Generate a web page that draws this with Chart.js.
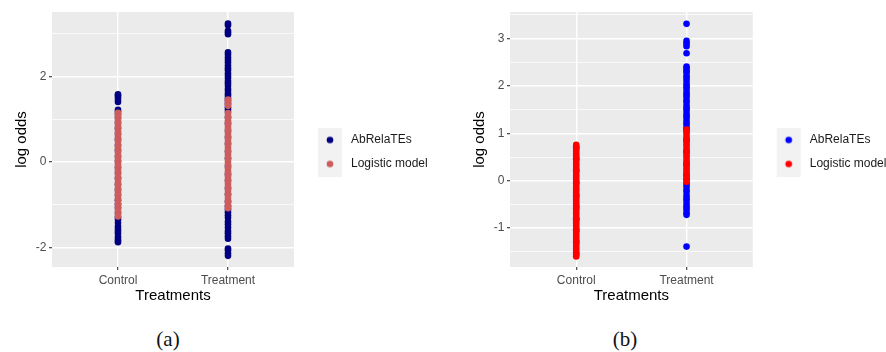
<!DOCTYPE html>
<html><head><meta charset="utf-8">
<script src="https://cdn.jsdelivr.net/npm/chart.js@4"></script>
<style>
html,body{margin:0;padding:0;background:#fff;width:886px;height:352px;overflow:hidden;}
canvas{position:absolute;top:0;}
.cap{position:absolute;top:327px;height:24px;line-height:24px;font-family:'Liberation Serif','DejaVu Serif',serif;font-size:21px;color:#111;width:60px;text-align:center;}
</style></head><body>
<canvas id="ca" width="443" height="305" style="left:0px"></canvas>
<canvas id="cb" width="428" height="305" style="left:458px"></canvas>
<div class="cap" id="capA" style="left:138px"></div>
<div class="cap" id="capB" style="left:595px"></div>
<script>
const categories = ['Control', 'Treatment'];
const seriesNames = ['AbRelaTEs', 'Logistic model'];
const panelCaptions = ['(a)', '(b)'];
const xTitle = 'Treatments';
const yTitle = 'log odds';

// panel (a)
const aAbControl = [1.58, 1.55, 1.51, 1.45, 1.40, 1.22, 1.18, 1.12, 1.03, 0.91, 0.79, 0.66, 0.53, 0.39, 0.27, 0.12, 0.01, -0.13, -0.25, -0.38, -0.52, -0.64, -0.77, -0.89, -0.99, -1.07, -1.19, -1.29, -1.34, -1.42, -1.50, -1.56, -1.61, -1.66, -1.74, -1.79, -1.83, -1.87];
const aAbTreatment = [3.23, 3.19, 3.06, 3.02, 2.98, 2.56, 2.51, 2.44, 2.38, 2.32, 2.25, 2.19, 2.14, 2.07, 2.01, 1.96, 1.89, 1.84, 1.78, 1.71, 1.66, 1.60, 1.55, 1.49, 1.43, 1.36, 1.28, 1.23, 1.17, 1.04, 0.90, 0.73, 0.57, 0.42, 0.24, 0.08, -0.11, -0.29, -0.44, -0.62, -0.76, -0.92, -1.03, -1.11, -1.17, -1.24, -1.30, -1.39, -1.45, -1.53, -1.61, -1.66, -1.73, -1.79, -2.02, -2.06, -2.13, -2.19];
const aLogControl = [1.15, 1.11, 1.07, 1.01, 0.96, 0.92, 0.85, 0.81, 0.74, 0.70, 0.63, 0.58, 0.51, 0.47, 0.40, 0.34, 0.30, 0.23, 0.17, 0.13, 0.06, 0.02, -0.05, -0.10, -0.17, -0.21, -0.28, -0.34, -0.38, -0.45, -0.51, -0.55, -0.62, -0.68, -0.72, -0.79, -0.85, -0.89, -0.96, -1.01, -1.06, -1.12, -1.16, -1.23, -1.27];
const aLogTreatment = [1.46, 1.43, 1.38, 1.35, 1.31, 1.14, 1.08, 1.04, 0.97, 0.93, 0.86, 0.80, 0.76, 0.69, 0.63, 0.59, 0.52, 0.46, 0.42, 0.35, 0.29, 0.25, 0.18, 0.12, 0.08, 0.01, -0.05, -0.09, -0.16, -0.22, -0.26, -0.33, -0.39, -0.43, -0.50, -0.56, -0.60, -0.67, -0.73, -0.77, -0.84, -0.90, -0.94, -1.00, -1.05, -1.08];
const aYMajor = [-2, 0, 2];
const aYMinor = [-1, 1, 3];

// panel (b)
const bAbControl = [0.70, 0.46, 0.21, -0.04, -0.31, -0.55, -0.81, -1.04, -1.29, -1.54];
const bAbTreatment = [3.31, 2.95, 2.90, 2.84, 2.69, 2.41, 2.37, 2.32, 2.28, 2.21, 2.17, 2.11, 2.04, 1.99, 1.94, 1.87, 1.82, 1.77, 1.70, 1.65, 1.58, 1.53, 1.48, 1.41, 1.36, 1.30, 1.24, 1.19, 1.12, 1.07, 0.86, 0.61, 0.34, 0.12, 0.03, -0.06, -0.12, -0.19, -0.24, -0.31, -0.37, -0.42, -0.49, -0.55, -0.60, -0.67, -0.72, -1.39];
const bLogControl = [0.76, 0.72, 0.67, 0.63, 0.58, 0.53, 0.49, 0.45, 0.40, 0.35, 0.31, 0.26, 0.22, 0.17, 0.12, 0.08, 0.03, -0.02, -0.06, -0.11, -0.16, -0.20, -0.25, -0.30, -0.35, -0.39, -0.44, -0.48, -0.53, -0.58, -0.62, -0.67, -0.72, -0.77, -0.81, -0.86, -0.90, -0.95, -1.00, -1.05, -1.09, -1.14, -1.18, -1.23, -1.28, -1.33, -1.37, -1.42, -1.46, -1.51, -1.56, -1.60];
const bLogTreatment = [1.08, 1.03, 0.99, 0.93, 0.88, 0.84, 0.78, 0.74, 0.68, 0.63, 0.59, 0.53, 0.49, 0.43, 0.38, 0.34, 0.28, 0.23, 0.19, 0.13, 0.08, -0.02];
const bYMajor = [-1, 0, 1, 2, 3];
const bYMinor = [-1.5, -0.5, 0.5, 1.5, 2.5, 3.5];

const SANS = "'Liberation Sans', Arial, Helvetica, sans-serif";

function pts(cols) {
  return cols.flatMap((vals, i) => vals.map(v => ({x: i + 1, y: v})));
}
function keyImage(color) {
  const c = document.createElement('canvas');
  c.width = 39; c.height = 25;
  const g = c.getContext('2d');
  g.fillStyle = '#F2F2F2';
  g.fillRect(12, 0, 24, 25);
  g.fillStyle = color;
  g.beginPath(); g.arc(24, 12.5, 3.3, 0, Math.PI * 2); g.fill();
  return c;
}
const panelBg = {
  id: 'panelBg',
  beforeDraw(chart) {
    const {ctx, chartArea: a} = chart;
    ctx.save(); ctx.fillStyle = '#EBEBEB';
    ctx.fillRect(a.left, a.top, a.right - a.left, a.bottom - a.top);
    ctx.restore();
  }
};
const legendShift = {
  id: 'legendShift',
  afterLayout(chart) {
    const l = chart.legend;
    if (l) {
      l.top -= 6.5; l.bottom -= 6.5;
      l.right = chart.width; l.width = l.right - l.left;
    }
  }
};

function makeChart(id, abCols, lmCols, colors, yMin, yMax, yMajor, yMinor, padRight) {
  const isMajor = (v) => yMajor.includes(v);
  return new Chart(document.getElementById(id), {
    type: 'scatter',
    data: {
      datasets: [
        {label: seriesNames[0], data: pts(abCols), backgroundColor: colors[0], borderWidth: 0, pointRadius: 3.3, order: 1},
        {label: seriesNames[1], data: pts(lmCols), backgroundColor: colors[1], borderWidth: 0, pointRadius: 3.3, order: 0}
      ]
    },
    options: {
      responsive: false, animation: false, devicePixelRatio: 1,
      layout: {padding: {left: 0, top: 12, right: padRight, bottom: 0}},
      plugins: {
        tooltip: {enabled: false},
        legend: {
          position: 'right', align: 'center',
          labels: {
            usePointStyle: true, pointStyleWidth: 39, padding: 12,
            color: '#1a1a1a', font: {family: SANS, size: 12},
            sort: (a, b) => a.datasetIndex - b.datasetIndex,
            generateLabels(chart) {
              const items = Chart.defaults.plugins.legend.labels.generateLabels(chart);
              items.forEach(it => { it.pointStyle = keyImage(colors[it.datasetIndex]); });
              return items;
            }
          }
        }
      },
      scales: {
        x: {
          type: 'linear', min: 0.4, max: 2.6,
          afterBuildTicks(s) { s.ticks = categories.map((c, i) => ({value: i + 1})); },
          afterFit(s) { s.height = 38; },
          ticks: {callback: (v) => categories[v - 1], color: '#4D4D4D', font: {family: SANS, size: 12}, padding: 3, autoSkip: false, maxRotation: 0},
          grid: {color: '#FFFFFF', lineWidth: 1.4, tickColor: '#333333', tickLength: 3, tickWidth: 1.1},
          border: {display: false},
          title: {display: true, text: xTitle, color: '#000', font: {family: SANS, size: 15}, padding: {top: 0, bottom: 0}}
        },
        y: {
          type: 'linear', min: yMin, max: yMax,
          afterBuildTicks(s) { s.ticks = [...yMajor, ...yMinor].sort((a, b) => a - b).map(v => ({value: v})); },
          afterFit(s) { s.width = 52; },
          ticks: {callback: (v) => isMajor(v) ? String(v) : '', color: '#4D4D4D', font: {family: SANS, size: 12}, padding: 2.5, autoSkip: false},
          grid: {
            color: '#FFFFFF',
            lineWidth: (c) => (c.tick && isMajor(c.tick.value)) ? 1.4 : 0.7,
            tickColor: (c) => (c.tick && isMajor(c.tick.value)) ? '#333333' : 'rgba(0,0,0,0)',
            tickLength: 3, tickWidth: 1.1
          },
          border: {display: false},
          title: {display: true, text: yTitle, color: '#000', font: {family: SANS, size: 15}, padding: {top: 13, bottom: 0}}
        }
      }
    },
    plugins: [panelBg, legendShift]
  });
}

makeChart('ca', [aAbControl, aAbTreatment], [aLogControl, aLogTreatment], ['#000080', '#CD5C5C'], -2.45, 3.5, aYMajor, aYMinor, 51);
makeChart('cb', [bAbControl, bAbTreatment], [bLogControl, bLogTreatment], ['#0000FF', '#FF0000'], -1.82, 3.56, bYMajor, bYMinor, 35);
document.getElementById('capA').textContent = panelCaptions[0];
document.getElementById('capB').textContent = panelCaptions[1];
</script>
</body></html>
